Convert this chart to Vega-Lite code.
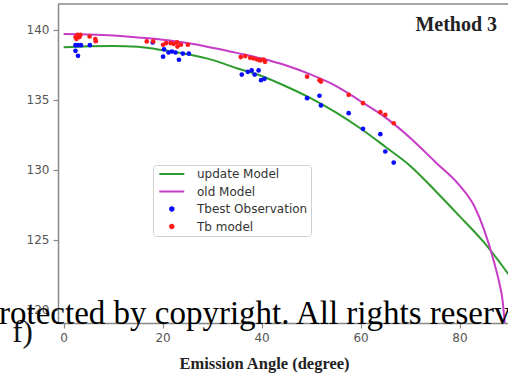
{
  "$schema": "https://vega.github.io/schema/vega-lite/v6.json",
  "width": 450,
  "height": 319,
  "autosize": {"type": "none"},
  "padding": {"left": 58, "top": 4, "right": 0, "bottom": 50},
  "background": "white",
  "config": {"view": {"stroke": null}},
  "datasets": {
    "curves": [
      {"model": "update Model", "angle": 0, "tb": 138.75},
      {"model": "update Model", "angle": 5, "tb": 138.83},
      {"model": "update Model", "angle": 10, "tb": 138.85},
      {"model": "update Model", "angle": 15, "tb": 138.78},
      {"model": "update Model", "angle": 20, "tb": 138.55},
      {"model": "update Model", "angle": 25, "tb": 138.25},
      {"model": "update Model", "angle": 30, "tb": 137.85},
      {"model": "update Model", "angle": 35, "tb": 137.25},
      {"model": "update Model", "angle": 40, "tb": 136.7},
      {"model": "update Model", "angle": 45, "tb": 135.95},
      {"model": "update Model", "angle": 50, "tb": 135.1},
      {"model": "update Model", "angle": 55, "tb": 134.1},
      {"model": "update Model", "angle": 60, "tb": 132.95},
      {"model": "update Model", "angle": 65, "tb": 131.65},
      {"model": "update Model", "angle": 70, "tb": 130.3},
      {"model": "update Model", "angle": 75, "tb": 128.55},
      {"model": "update Model", "angle": 80, "tb": 126.7},
      {"model": "update Model", "angle": 85, "tb": 124.8},
      {"model": "update Model", "angle": 90, "tb": 122.5},
      {"model": "old Model", "angle": 0, "tb": 139.7},
      {"model": "old Model", "angle": 5, "tb": 139.67},
      {"model": "old Model", "angle": 10, "tb": 139.6},
      {"model": "old Model", "angle": 15, "tb": 139.45},
      {"model": "old Model", "angle": 20, "tb": 139.28},
      {"model": "old Model", "angle": 25, "tb": 139.05},
      {"model": "old Model", "angle": 30, "tb": 138.72},
      {"model": "old Model", "angle": 35, "tb": 138.35},
      {"model": "old Model", "angle": 40, "tb": 137.95},
      {"model": "old Model", "angle": 45, "tb": 137.45},
      {"model": "old Model", "angle": 50, "tb": 136.8},
      {"model": "old Model", "angle": 55, "tb": 136.0},
      {"model": "old Model", "angle": 60, "tb": 134.9},
      {"model": "old Model", "angle": 65, "tb": 133.75},
      {"model": "old Model", "angle": 70, "tb": 132.3},
      {"model": "old Model", "angle": 75, "tb": 130.6},
      {"model": "old Model", "angle": 80, "tb": 128.9},
      {"model": "old Model", "angle": 83, "tb": 127.4},
      {"model": "old Model", "angle": 85, "tb": 125.7},
      {"model": "old Model", "angle": 87, "tb": 123.4},
      {"model": "old Model", "angle": 88, "tb": 122.0},
      {"model": "old Model", "angle": 88.7, "tb": 120.7},
      {"model": "old Model", "angle": 89.2, "tb": 118.8}
    ],
    "points": [
      {"series": "Tbest Observation", "angle": 2.4, "tb": 138.9},
      {"series": "Tbest Observation", "angle": 2.9, "tb": 138.9},
      {"series": "Tbest Observation", "angle": 3.5, "tb": 138.9},
      {"series": "Tbest Observation", "angle": 2.4, "tb": 138.5},
      {"series": "Tbest Observation", "angle": 2.9, "tb": 138.14},
      {"series": "Tbest Observation", "angle": 5.3, "tb": 138.9},
      {"series": "Tbest Observation", "angle": 18.0, "tb": 139.1},
      {"series": "Tbest Observation", "angle": 20.1, "tb": 138.08},
      {"series": "Tbest Observation", "angle": 20.3, "tb": 138.6},
      {"series": "Tbest Observation", "angle": 21.2, "tb": 138.38},
      {"series": "Tbest Observation", "angle": 21.9, "tb": 138.45},
      {"series": "Tbest Observation", "angle": 22.6, "tb": 138.38},
      {"series": "Tbest Observation", "angle": 23.3, "tb": 137.86},
      {"series": "Tbest Observation", "angle": 24.1, "tb": 138.3},
      {"series": "Tbest Observation", "angle": 25.3, "tb": 138.3},
      {"series": "Tbest Observation", "angle": 36.0, "tb": 136.8},
      {"series": "Tbest Observation", "angle": 37.2, "tb": 137.0},
      {"series": "Tbest Observation", "angle": 38.0, "tb": 137.1},
      {"series": "Tbest Observation", "angle": 38.6, "tb": 136.8},
      {"series": "Tbest Observation", "angle": 39.4, "tb": 137.1},
      {"series": "Tbest Observation", "angle": 39.9, "tb": 136.4},
      {"series": "Tbest Observation", "angle": 40.6, "tb": 136.5},
      {"series": "Tbest Observation", "angle": 49.2, "tb": 135.12},
      {"series": "Tbest Observation", "angle": 51.7, "tb": 135.29},
      {"series": "Tbest Observation", "angle": 52.0, "tb": 134.6},
      {"series": "Tbest Observation", "angle": 57.6, "tb": 134.05},
      {"series": "Tbest Observation", "angle": 60.5, "tb": 132.93},
      {"series": "Tbest Observation", "angle": 64.0, "tb": 132.55},
      {"series": "Tbest Observation", "angle": 65.0, "tb": 131.31},
      {"series": "Tbest Observation", "angle": 66.7, "tb": 130.52},
      {"series": "Tb model", "angle": 2.4, "tb": 139.48},
      {"series": "Tb model", "angle": 2.8, "tb": 139.64},
      {"series": "Tb model", "angle": 3.4, "tb": 139.64},
      {"series": "Tb model", "angle": 2.6, "tb": 139.34},
      {"series": "Tb model", "angle": 3.2, "tb": 139.48},
      {"series": "Tb model", "angle": 5.25, "tb": 139.52},
      {"series": "Tb model", "angle": 6.4, "tb": 139.34},
      {"series": "Tb model", "angle": 6.5, "tb": 139.19},
      {"series": "Tb model", "angle": 16.8, "tb": 139.17},
      {"series": "Tb model", "angle": 18.1, "tb": 139.17},
      {"series": "Tb model", "angle": 20.1, "tb": 138.93},
      {"series": "Tb model", "angle": 20.7, "tb": 139.05},
      {"series": "Tb model", "angle": 21.6, "tb": 139.05},
      {"series": "Tb model", "angle": 22.2, "tb": 139.0},
      {"series": "Tb model", "angle": 22.9, "tb": 139.1},
      {"series": "Tb model", "angle": 23.0, "tb": 138.8},
      {"series": "Tb model", "angle": 23.7, "tb": 138.93},
      {"series": "Tb model", "angle": 25.1, "tb": 138.93},
      {"series": "Tb model", "angle": 35.8, "tb": 138.05},
      {"series": "Tb model", "angle": 36.7, "tb": 138.12},
      {"series": "Tb model", "angle": 37.7, "tb": 138.0},
      {"series": "Tb model", "angle": 38.4, "tb": 137.95},
      {"series": "Tb model", "angle": 39.1, "tb": 137.88},
      {"series": "Tb model", "angle": 39.7, "tb": 137.81},
      {"series": "Tb model", "angle": 40.4, "tb": 137.88},
      {"series": "Tb model", "angle": 40.7, "tb": 137.71},
      {"series": "Tb model", "angle": 49.2, "tb": 136.65},
      {"series": "Tb model", "angle": 51.7, "tb": 136.4},
      {"series": "Tb model", "angle": 52.0, "tb": 136.3},
      {"series": "Tb model", "angle": 57.6, "tb": 135.36},
      {"series": "Tb model", "angle": 60.5, "tb": 134.76},
      {"series": "Tb model", "angle": 64.0, "tb": 134.12},
      {"series": "Tb model", "angle": 65.0, "tb": 133.93},
      {"series": "Tb model", "angle": 66.7, "tb": 133.33}
    ]
  },
  "layer": [
    {
      "data": {"name": "curves"},
      "mark": {"type": "line", "strokeWidth": 2, "interpolate": "monotone", "clip": true},
      "encoding": {
        "x": {
          "field": "angle", "type": "quantitative",
          "scale": {"domain": [-1.14, 89.8], "nice": false, "zero": false},
          "axis": {
            "values": [0, 20, 40, 60, 80], "grid": false,
            "domainColor": "#888888", "domainWidth": 1.5,
            "tickColor": "#888888", "tickSize": 5, "tickWidth": 1.2,
            "labelColor": "#555555", "labelFont": "DejaVu Sans", "labelFontSize": 12, "labelPadding": 4,
            "title": "Emission Angle (degree)",
            "titleFont": "Liberation Serif", "titleFontSize": 16.5, "titleFontWeight": "bold", "titleColor": "#222222",
            "titleX": 206, "titleY": 40, "titleBaseline": "middle", "titleAlign": "center"
          }
        },
        "y": {
          "field": "tb", "type": "quantitative",
          "scale": {"domain": [119.07, 141.84], "nice": false, "zero": false},
          "axis": {
            "values": [120, 125, 130, 135, 140], "grid": false, "title": null,
            "domainColor": "#888888", "domainWidth": 1.5,
            "tickColor": "#888888", "tickSize": 5, "tickWidth": 1.2,
            "labelColor": "#555555", "labelFont": "DejaVu Sans", "labelFontSize": 12, "labelPadding": 4
          }
        },
        "color": {
          "field": "model", "type": "nominal",
          "scale": {
            "domain": ["update Model", "old Model", "Tbest Observation", "Tb model"],
            "range": ["#2e9b2e", "#c63cc6", "#0a0aff", "#ff1a1a"]
          },
          "legend": {
            "orient": "none", "legendX": 95, "legendY": 161, "title": null,
            "padding": 3, "strokeColor": "#d0d0d0", "fillColor": "white", "cornerRadius": 3,
            "rowPadding": 5.5, "symbolSize": 100, "symbolOffset": 9.8, "labelOffset": 19.2,
            "labelFont": "DejaVu Sans", "labelFontSize": 12, "labelColor": "#333333",
            "encode": {
              "symbols": {
                "update": {
                  "shape": {"signal": "datum.index < 2 ? 'M-2.5,0H2.5' : 'M-0.34,0A0.34,0.34 0 1,0 0.34,0A0.34,0.34 0 1,0 -0.34,0Z'"},
                  "fill": {"signal": "datum.index < 2 ? 'transparent' : (datum.index == 2 ? '#0a0aff' : '#ff1a1a')"},
                  "stroke": {"signal": "datum.index == 0 ? '#2e9b2e' : (datum.index == 1 ? '#c63cc6' : 'transparent')"},
                  "strokeWidth": {"value": 2},
                  "opacity": {"value": 1}
                }
              }
            }
          }
        }
      }
    },
    {
      "data": {"name": "points"},
      "mark": {"type": "point", "filled": true, "size": 22, "opacity": 1},
      "encoding": {
        "x": {"field": "angle", "type": "quantitative"},
        "y": {"field": "tb", "type": "quantitative"},
        "color": {"field": "series", "type": "nominal"}
      }
    },
    {
      "data": {"values": [{}]},
      "mark": {"type": "rule", "color": "#888888", "strokeWidth": 1.5},
      "encoding": {"y": {"datum": 141.84}}
    },
    {
      "data": {"values": [{}]},
      "mark": {"type": "text", "font": "Liberation Serif", "fontSize": 20, "fontWeight": "bold", "color": "#222222", "align": "right", "baseline": "alphabetic"},
      "encoding": {"x": {"datum": 87.6}, "y": {"datum": 139.93}, "text": {"value": "Method 3"}}
    },
    {
      "data": {"values": [{}]},
      "mark": {"type": "text", "font": "Liberation Serif", "fontSize": 31, "color": "#111111", "align": "left", "baseline": "alphabetic"},
      "encoding": {"x": {"datum": -10.4}, "y": {"datum": 117.68}, "text": {"value": "f)"}}
    },
    {
      "data": {"values": [{}]},
      "mark": {"type": "text", "font": "Liberation Serif", "fontSize": 33, "color": "#000000", "align": "left", "baseline": "alphabetic"},
      "encoding": {"x": {"datum": -13.06}, "y": {"datum": 118.98}, "text": {"value": "rotected by copyright. All rights reserv"}}
    }
  ]
}
